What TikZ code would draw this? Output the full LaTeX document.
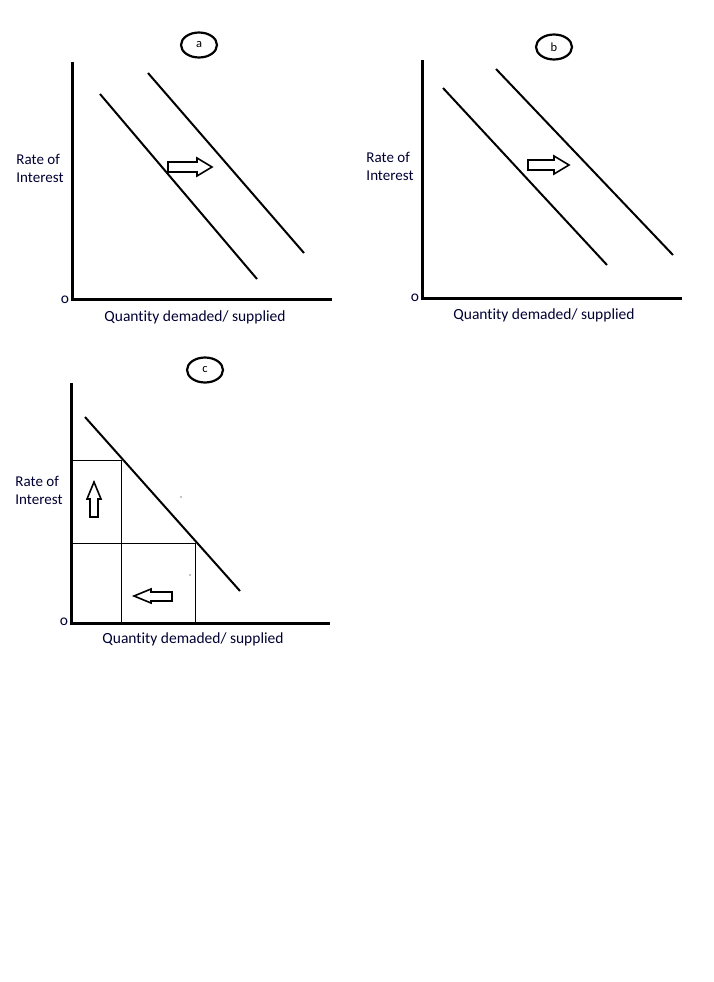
\documentclass[tikz,border=0pt]{standalone}
\usepackage{fontspec}
\setmainfont[Ligatures=NoCommon]{Carlito}
\usetikzlibrary{shapes.geometric}
\begin{document}
\begin{tikzpicture}[x=1pt,y=-1pt,
  axis/.style={line width=3pt},
  curve/.style={line width=2pt},
  thin/.style={line width=1pt},
  lab/.style={font=\fontsize{15.5}{18}\selectfont, text=black!80!blue, inner sep=0pt},
  ylab/.style={font=\fontsize{15}{18}\selectfont, align=left, text=black!80!blue, inner sep=0pt},
  tag/.style={ellipse, draw, line width=2.2pt, minimum width=36pt, minimum height=25pt, inner sep=0pt, font=\fontsize{12.5}{14}\selectfont},
  blockarrow/.style={line width=1.6pt, line join=miter, fill=white}
]
\useasboundingbox (0,0) rectangle (714,982);
\fill[white] (0,0) rectangle (714,982);

% ---------- panel a ----------
\coordinate (aO) at (72,299);
\coordinate (aY) at (72,62);
\coordinate (aX) at (332,299);
\draw[axis] (aY) -- (aO) -- (aX);
\node[lab] (ao) at (65,300) {o};
\coordinate (a1s) at (100,94); \coordinate (a1e) at (257,279);
\coordinate (a2s) at (148,73); \coordinate (a2e) at (304,253);
\draw[curve] (a1s) -- (a1e);
\draw[curve] (a2s) -- (a2e);
\draw[blockarrow] (168,162) -- (197,162) -- (197,158) -- (212,167) -- (197,176) -- (197,172) -- (168,172) -- cycle;
\node[tag] (atag) at (199,45) {a};
\node[ylab] (ayl) at (40,168) {Rate of\\Interest};
\node[lab] (axl) at (195,317) {Quantity demaded/ supplied};

% ---------- panel b ----------
\coordinate (bO) at (422,298);
\coordinate (bY) at (422,60);
\coordinate (bX) at (682,298);
\draw[axis] (bY) -- (bO) -- (bX);
\node[lab] (bo) at (415,298) {o};
\coordinate (b1s) at (443,88); \coordinate (b1e) at (607,265);
\coordinate (b2s) at (496,69); \coordinate (b2e) at (673,255);
\draw[curve] (b1s) -- (b1e);
\draw[curve] (b2s) -- (b2e);
\draw[blockarrow] (528,160) -- (554,160) -- (554,156) -- (569,165) -- (554,174) -- (554,170) -- (528,170) -- cycle;
\node[tag] (btag) at (554,47) {b};
\node[ylab] (byl) at (390,166) {Rate of\\Interest};
\node[lab] (bxl) at (544,315) {Quantity demaded/ supplied};

% ---------- panel c ----------
\coordinate (cO) at (71,623);
\coordinate (cY) at (71,383);
\coordinate (cX) at (330,623);
\coordinate (cs) at (85,417); \coordinate (ce) at (240,591);
\draw[curve] (cs) -- (ce);
\draw[thin] (71,460) -- (121,460) -- (121,623);
\draw[thin] (71,543) -- (195,543) -- (195,623);
\draw[axis] (cY) -- (cO) -- (cX);
\node[lab] (co) at (64,622) {o};
\draw[blockarrow] (94,482) -- (101,499) -- (98,499) -- (98,517) -- (90,517) -- (90,499) -- (87,499) -- cycle;
\draw[blockarrow] (134,596) -- (151,589) -- (151,592) -- (172,592) -- (172,601) -- (151,601) -- (151,603) -- cycle;
\fill (181,497) circle (0.7pt);
\fill (190,575) circle (0.7pt);
\node[tag] (ctag) at (205,370) {c};
\node[ylab] (cyl) at (39,490) {Rate of\\Interest};
\node[lab] (cxl) at (193,639) {Quantity demaded/ supplied};
\end{tikzpicture}
\end{document}
